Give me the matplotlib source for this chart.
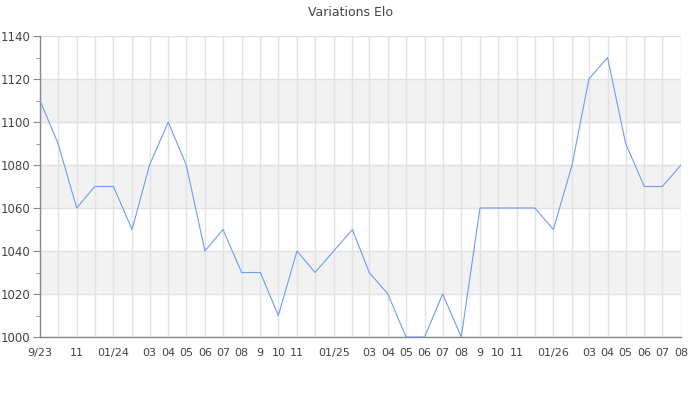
import datetime as dt
import matplotlib
matplotlib.use("Agg")
import matplotlib.pyplot as plt
import matplotlib.dates as mdates
from matplotlib.ticker import MultipleLocator

# Données : un point par mois, de 09/2023 à 08/2026
months = [dt.date(2023 + (8 + i) // 12, (8 + i) % 12 + 1, 1) for i in range(36)]
elo = [1110, 1090, 1060, 1070, 1070, 1050, 1080, 1100, 1080, 1040, 1050, 1030,
       1030, 1010, 1040, 1030, 1040, 1050, 1030, 1020, 1000, 1000, 1020, 1000,
       1060, 1060, 1060, 1060, 1050, 1080, 1120, 1130, 1090, 1070, 1070, 1080]
tick_labels = ["9/23", "", "11", "", "01/24", "", "03", "04", "05", "06", "07", "08",
               "9", "10", "11", "", "01/25", "", "03", "04", "05", "06", "07", "08",
               "9", "10", "11", "", "01/26", "", "03", "04", "05", "06", "07", "08"]
bands = [(1020, 1040), (1060, 1080), (1100, 1120)]

fig = plt.figure(figsize=(7, 4), dpi=100)
ax = fig.add_axes([40 / 700, 1 - 337 / 400, 641 / 700, 301 / 400])

for lo, hi in bands:
    ax.axhspan(lo, hi, color="#f2f2f2", zorder=0, lw=0)

ax.plot(months, elo, color="#6f9cf0", lw=0.8, zorder=3)

ax.set_xlim(months[0], months[-1])
ax.set_ylim(1000, 1140)
ax.set_xticks([mdates.date2num(m) for m in months])
ax.set_xticklabels(tick_labels)
ax.yaxis.set_major_locator(MultipleLocator(20))
ax.yaxis.set_minor_locator(MultipleLocator(10))

ax.grid(True, which="major", color="#e2e2e2", lw=1, zorder=1)
ax.set_axisbelow(True)

for s in ["top", "right"]:
    ax.spines[s].set_visible(False)
for s in ["left", "bottom"]:
    ax.spines[s].set_color("#888888")
    ax.spines[s].set_linewidth(1)

ax.tick_params(axis="x", length=0, pad=8, labelsize=8, labelcolor="#444444")
ax.tick_params(axis="y", which="major", length=5, color="#888888",
               labelsize=8.5, labelcolor="#444444", pad=2)
ax.tick_params(axis="y", which="minor", length=3, color="#888888")

fig.text(0.5, 1 - 12 / 400, "Variations Elo", ha="center", va="center",
         fontsize=9, color="#444444")

fig.savefig("out.png", dpi=100)
